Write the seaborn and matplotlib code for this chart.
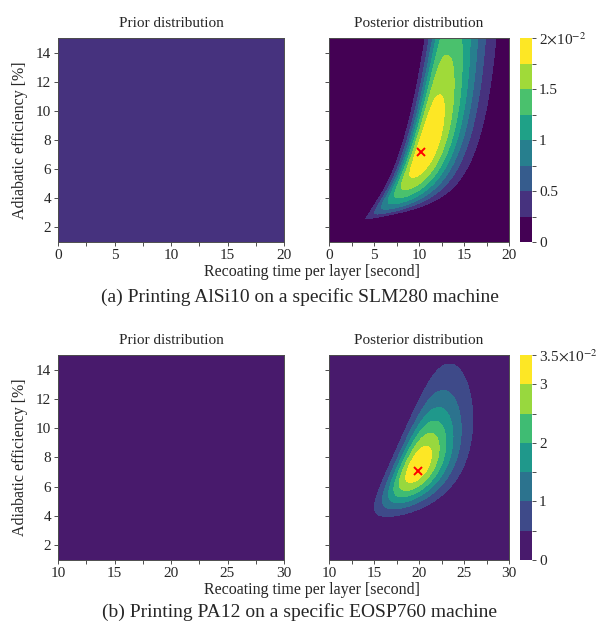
import numpy as np
import matplotlib
matplotlib.use("Agg")
import matplotlib.pyplot as plt
from matplotlib.ticker import MultipleLocator
import seaborn as sns

sns.set_style("ticks")
plt.rcParams['font.family'] = ['Liberation Serif', 'DejaVu Serif']
plt.rcParams['mathtext.fontset'] = 'stix'

# axis ranges / ticks
x_range_a = [0, 20]
x_range_b = [10, 30]
y_range = [1, 15]
x_ticks_a = [0, 5, 10, 15, 20]
x_ticks_b = [10, 15, 20, 25, 30]
y_ticks = [2, 4, 6, 8, 10, 12, 14]

# colour levels and colorbar labels
levels_a = [0, 0.0025, 0.005, 0.0075, 0.01, 0.0125, 0.015, 0.0175, 0.02]
levels_b = [0, 0.005, 0.01, 0.015, 0.02, 0.025, 0.03, 0.035]
cbar_labels_a = ['0', '', '0.5', '', '1', '', '1.5', '', '2$\\times$10$^{-2}$']
cbar_labels_b = ['0', '', '1', '', '2', '', '3', '3.5$\\times$10$^{-2}$']
cmap_pos_a = [0.0, 0.143, 0.286, 0.429, 0.571, 0.714, 0.857, 1.0]
cmap_pos_b = [0.07, 0.225, 0.38, 0.535, 0.69, 0.845, 1.0]

# uniform prior density (1 / area of the box)
prior_a = 0.00357
prior_b = 0.00357

# MAP estimates (red crosses)
map_a = [10.2, 7.2]
map_b = [19.9, 7.1]

# posterior shape, in (x, ln(y - c)) coordinates
# centre (x, t) / shift c / ridge slope dx/dt / spread along ridge (below, above)
centre_a = [10.87, 1.753]
centre_b = [20.0, 1.937]
shift_a, shift_b = 1.9, 0.48
slope_a, slope_b = 3.15, 5.0
spread_a = [1.05, 1.0]
spread_b = [0.35, 0.355]
# across the ridge: left scale, right scale, left exp, right exp,
# taper start y, left taper length, right taper length, left / right drift
across_a = [1.65, 2.75, 2.8, 2.0, 2.45, 0.45, 0.6, 0.1, 0.0]
across_b = [1.95, 2.35, 2.5, 1.8, 2.0, 0.5, 0.5, 0.0, 0.0]
peak_a = 0.0195
peak_b = 0.034

titles = ['Prior distribution', 'Posterior distribution']
captions = ['(a) Printing AlSi10 on a specific SLM280 machine',
            '(b) Printing PA12 on a specific EOSP760 machine']


def posterior(x, y, centre, c, k, spread, across, peak):
    sL0, sR0, pL, pR, y_t, LL, LR, gL, gR = across
    yc = np.clip(y - c, 1e-3, None)
    v = np.log(yc) - centre[1]
    w = x - centre[0] - k * v
    sv = np.where(v < 0, spread[0], spread[1])
    dy = np.clip(y - y_t, 1e-3, None)
    sL = sL0 * np.clip(1 + gL * v, 0.05, None) * (1 - np.exp(-dy / LL))
    sR = sR0 * np.clip(1 + gR * v, 0.05, None) * (1 - np.exp(-dy / LR))
    left = w < 0
    s = np.where(left, sL, sR)
    p = np.where(left, pL, pR)
    dens = peak * np.exp(-0.5 * (v / sv) ** 2) * np.exp(-0.5 * np.abs(w / s) ** p)
    return np.where(y > max(c, y_t), dens, 0.0)


viridis = sns.color_palette("viridis", as_cmap=True)

W, H = 601, 630
fig = plt.figure(figsize=(W / 100, H / 100), dpi=100)


def px_axes(left, top, right, bottom):
    return fig.add_axes([left / W, 1 - bottom / H, (right - left) / W, (bottom - top) / H])


rows = [
    dict(xr=x_range_a, xt=x_ticks_a, levels=levels_a, labels=cbar_labels_a,
         cpos=cmap_pos_a, prior=prior_a, mp=map_a,
         post=(centre_a, shift_a, slope_a, spread_a, across_a, peak_a),
         top=38, bottom=242, xlab_y=272, cap_y=297, ylab_y=140),
    dict(xr=x_range_b, xt=x_ticks_b, levels=levels_b, labels=cbar_labels_b,
         cpos=cmap_pos_b, prior=prior_b, mp=map_b,
         post=(centre_b, shift_b, slope_b, spread_b, across_b, peak_b),
         top=355, bottom=560, xlab_y=590, cap_y=612, ylab_y=457),
]

for i, r in enumerate(rows):
    colors = [viridis(p) for p in r['cpos']]
    xs = np.linspace(r['xr'][0], r['xr'][1], 500)
    ys = np.linspace(y_range[0], y_range[1], 500)
    X, Y = np.meshgrid(xs, ys)
    Z_prior = np.full_like(X, r['prior'])
    Z_post = posterior(X, Y, *r['post'])

    ax1 = px_axes(58, r['top'], 284, r['bottom'])
    ax2 = px_axes(329, r['top'], 509, r['bottom'])
    cax = px_axes(520, r['top'], 532, r['bottom'])

    ax1.contourf(X, Y, Z_prior, levels=r['levels'], colors=colors)
    cs = ax2.contourf(X, Y, Z_post, levels=r['levels'], colors=colors)
    ax2.plot(r['mp'][0], r['mp'][1], marker='x', color='red', ms=5.5, mew=1.4)

    for j, ax in enumerate([ax1, ax2]):
        ax.set_xlim(r['xr'])
        ax.set_ylim(y_range)
        ax.set_xticks(r['xt'])
        ax.set_yticks(y_ticks)
        ax.xaxis.set_minor_locator(MultipleLocator(2.5))
        ax.tick_params(which='major', direction='out', length=3, width=0.7,
                       labelsize=11, pad=2, color='0.3')
        ax.tick_params(which='minor', direction='out', length=3, width=0.7, color='0.3')
        ax.set_title(titles[j], fontsize=11, pad=8)
        for sp in ax.spines.values():
            sp.set_linewidth(0.7)
            sp.set_color('0.3')
    ax2.tick_params(labelleft=False)

    cb = fig.colorbar(cs, cax=cax, ticks=r['levels'])
    cb.outline.set_visible(False)
    cax.set_yticklabels(r['labels'])
    cax.tick_params(length=3, width=0.7, labelsize=11, pad=2, color='0.3')

    fig.text(312 / W, 1 - r['xlab_y'] / H, 'Recoating time per layer [second]',
             ha='center', va='center', fontsize=11.5)
    fig.text(20 / W, 1 - r['ylab_y'] / H, 'Adiabatic efficiency [%]',
             ha='center', va='center', rotation=90, fontsize=11.5)
    fig.text(300 / W, 1 - r['cap_y'] / H, captions[i],
             ha='center', va='center', fontsize=14)

fig.savefig("out.png", dpi=100)
